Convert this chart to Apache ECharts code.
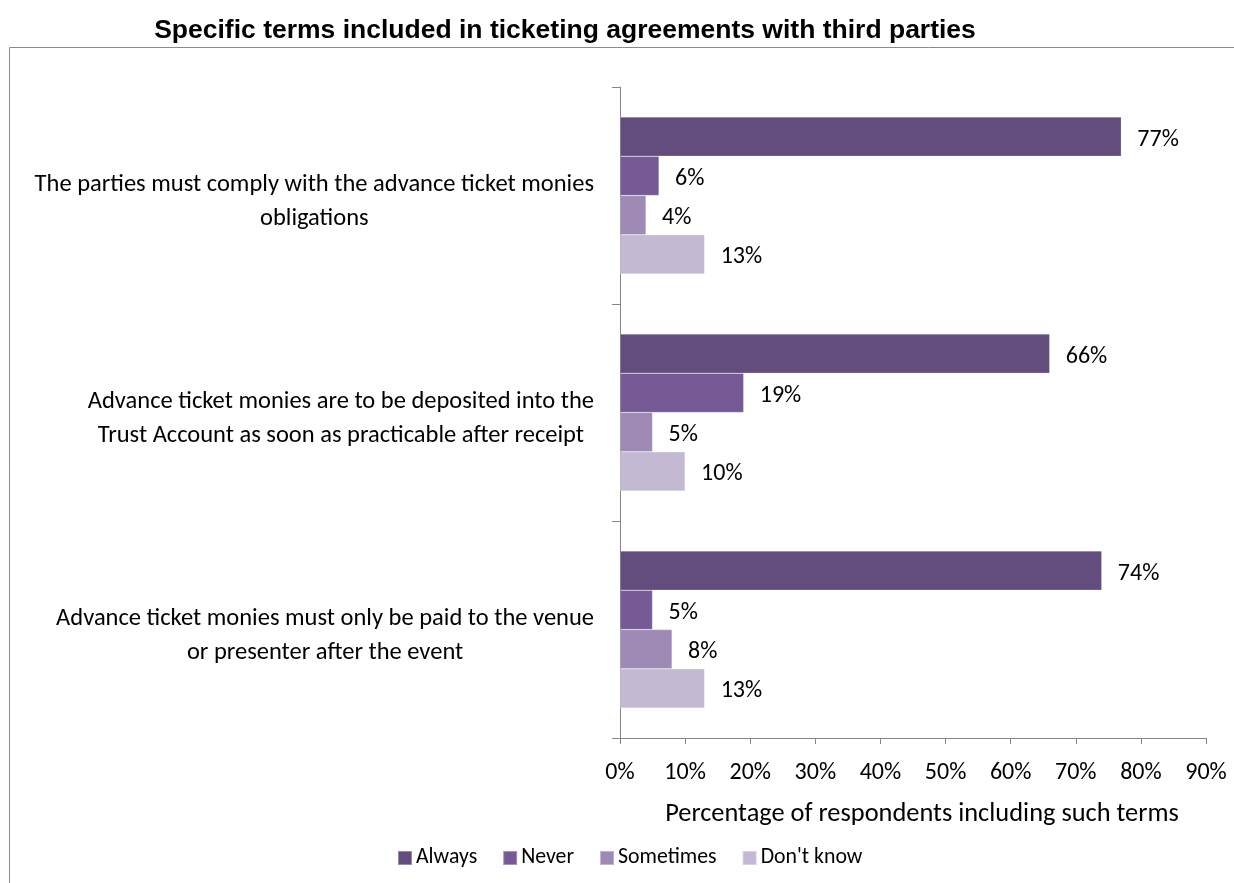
<!DOCTYPE html>
<html>
<head>
<meta charset="utf-8">
<script src="https://cdn.jsdelivr.net/npm/echarts@6/dist/echarts.min.js"></script>
<style>
  html, body { margin: 0; padding: 0; background: #fff; }
  #chart { width: 1234px; height: 883px; }
</style>
</head>
<body>
<div id="chart"></div>
<script>
// Survey terms (top to bottom) and share of respondents per answer
const categories = [
  'The parties must comply with the advance ticket monies\nobligations',
  'Advance ticket monies are to be deposited into the\nTrust Account as soon as practicable after receipt',
  'Advance ticket monies must only be paid to the venue\nor presenter after the event'
];
const seriesNames = ['Always', 'Never', 'Sometimes', "Don't know"];
const always = [77, 66, 74];
const never = [6, 19, 5];
const sometimes = [4, 5, 8];
const dontKnow = [13, 10, 13];
const xTicks = [0, 10, 20, 30, 40, 50, 60, 70, 80, 90];

const colors = ['#624D7C', '#765A96', '#9E8AB5', '#C4B9D3'];
const values = [always, never, sometimes, dontKnow];
const FONT = 'Carlito, Lato, "Open Sans", sans-serif';

const chart = echarts.init(document.getElementById('chart'), null, { renderer: 'canvas' });

chart.setOption({
  animation: false,
  backgroundColor: '#ffffff',
  title: {
    text: 'Specific terms included in ticketing agreements with third parties',
    left: 560,
    textAlign: 'center',
    top: 12,
    textStyle: { fontFamily: '"Liberation Sans", Arial, sans-serif', fontWeight: 'bold', fontSize: 26.5, color: '#000' }
  },
  graphic: [{
    type: 'rect',
    silent: true,
    z: -1,
    shape: { x: 9.5, y: 47.5, width: 1300, height: 900 },
    style: { fill: 'none', stroke: '#8a8a8a', lineWidth: 1 }
  }],
  legend: {
    data: seriesNames,
    top: 842,
    left: 392,
    icon: 'rect',
    itemWidth: 14,
    itemHeight: 14,
    itemGap: 25,
    textStyle: { fontFamily: FONT, fontSize: 21.8, color: '#000', padding: [0, 0, 0, -1] }
  },
  grid: { left: 620, right: 28, top: 87, bottom: 145, containLabel: false },
  xAxis: {
    type: 'value',
    min: xTicks[0],
    max: xTicks[xTicks.length - 1],
    interval: xTicks[1] - xTicks[0],
    splitLine: { show: false },
    axisLine: { show: true, lineStyle: { color: '#868686', width: 1 } },
    axisTick: { show: true, length: 6, lineStyle: { color: '#868686' } },
    axisLabel: { formatter: '{value}%', margin: 23, fontFamily: FONT, fontSize: 24, color: '#000' },
    name: 'Percentage of respondents including such terms',
    nameLocation: 'middle',
    nameGap: 63,
    nameTextStyle: { fontFamily: FONT, fontSize: 26.4, color: '#000', padding: [0, 0, 0, 18] }
  },
  yAxis: {
    type: 'category',
    inverse: true,
    data: categories,
    axisLine: { show: true, lineStyle: { color: '#868686', width: 1 } },
    axisTick: { show: true, length: 8, lineStyle: { color: '#868686' } },
    axisLabel: {
      margin: 26,
      fontFamily: FONT,
      fontSize: 24.5,
      color: '#000',
      lineHeight: 34,
      padding: [12, 0, 0, 0],
      formatter: v => v.split('\n').map(s => '{c|' + s + '}').join('\n'),
      rich: { c: { align: 'center', fontFamily: FONT, fontSize: 24.5, lineHeight: 34, color: '#000' } }
    }
  },
  series: seriesNames.map((name, i) => ({
    name,
    type: 'bar',
    data: values[i],
    barGap: '0%',
    barCategoryGap: '27.6%',
    itemStyle: { color: colors[i], borderColor: 'rgba(255,255,255,0.35)', borderWidth: 0.6 },
    label: {
      show: true,
      position: 'right',
      distance: 16,
      offset: [0, 3],
      formatter: '{c}%',
      fontFamily: FONT,
      fontSize: 24,
      color: '#000'
    }
  }))
});
</script>
</body>
</html>
